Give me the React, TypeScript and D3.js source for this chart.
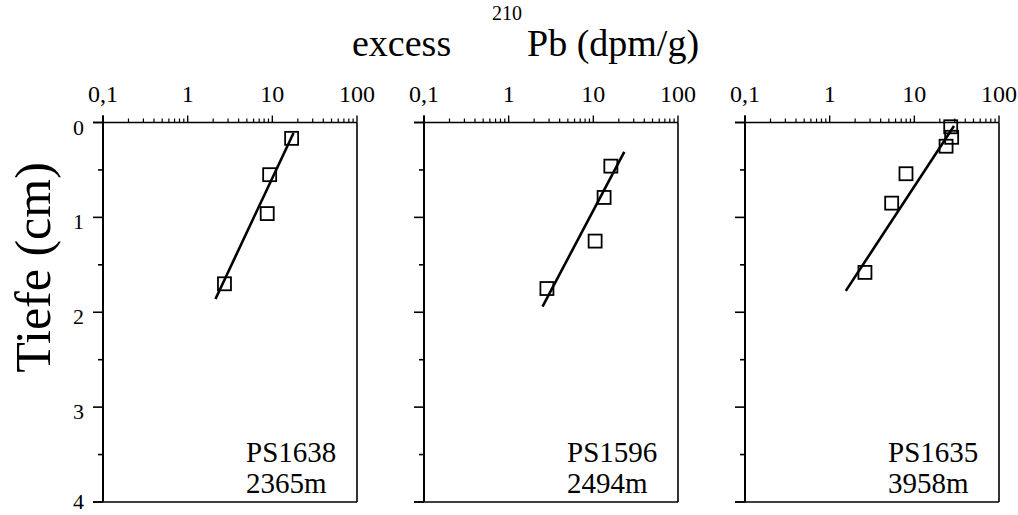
import React from "react";
import * as d3 from "d3";

// ---- data ----
const coreNames = ["PS1638", "PS1596", "PS1635"];
const waterDepths = ["2365m", "2494m", "3958m"];

const ps1638Pb = [16.9, 9.3, 8.7, 2.72];
const ps1638Depth = [0.167, 0.55, 0.96, 1.70];
const ps1638Fit = [[2.13, 1.86], [17.8, 0.11]];

const ps1596Pb = [16.1, 13.4, 10.5, 2.83];
const ps1596Depth = [0.46, 0.79, 1.25, 1.75];
const ps1596Fit = [[2.51, 1.94], [23.2, 0.31]];

const ps1635Pb = [26.9, 27.6, 23.7, 7.97, 5.4, 2.61];
const ps1635Depth = [0.045, 0.156, 0.25, 0.54, 0.85, 1.58];
const ps1635Fit = [[1.55, 1.775], [29.4, 0.037]];

const xTickLabels = ["0,1", "1", "10", "100"];
const xTickValues = [0.1, 1, 10, 100];
const yTickLabels = ["0", "1", "2", "3", "4"];
const yTickValues = [0, 1, 2, 3, 4];

const seriesPb = [ps1638Pb, ps1596Pb, ps1635Pb];
const seriesDepth = [ps1638Depth, ps1596Depth, ps1635Depth];
const seriesFit = [ps1638Fit, ps1596Fit, ps1635Fit];

// ---- layout ----
const W = 1018;
const H = 515;
const panelLefts = [103, 424, 745];
const panelW = 254;
const top = 122.5;
const bottom = 502;
const FONT = "'Liberation Serif', 'Times New Roman', serif";

const minorX: number[] = [];
[0.1, 1, 10].forEach((d) => {
  for (let k = 2; k <= 9; k++) minorX.push(k * d);
});
const minorY = [0.5, 1.5, 2.5, 3.5];

function Panel({ idx }: { idx: number }) {
  const x0 = panelLefts[idx];
  const x = d3.scaleLog().domain([0.1, 100]).range([x0, x0 + panelW]);
  const y = d3.scaleLinear().domain([0, 4]).range([top, bottom]);
  const pb = seriesPb[idx];
  const dep = seriesDepth[idx];
  const fit = seriesFit[idx];
  const line = d3
    .line<number[]>()
    .x((d) => x(d[0]))
    .y((d) => y(d[1]));
  const sq = 13;
  return (
    <g>
      {/* frame */}
      <line x1={x0 + panelW} x2={x0 + panelW} y1={top} y2={bottom} stroke="#000" strokeWidth={1.6} />
      <line x1={x0 - 10} x2={x0 + panelW} y1={bottom} y2={bottom} stroke="#000" strokeWidth={1.6} />
      <line x1={x0} x2={x0} y1={top - 7} y2={bottom} stroke="#000" strokeWidth={2} />
      <line x1={x0 - 10} x2={x0 + panelW} y1={top} y2={top} stroke="#000" strokeWidth={1.6} />
      {/* top axis ticks */}
      {xTickValues.map((v, i) => (
        <g key={"xt" + i}>
          <line x1={x(v)} x2={x(v)} y1={top} y2={top - 7} stroke="#000" strokeWidth={1.4} />
          <text x={x(v)} y={102} textAnchor="middle" fontSize={24} fontFamily={FONT} fill="#000">
            {xTickLabels[i]}
          </text>
        </g>
      ))}
      {minorX.map((v, i) => (
        <line key={"xm" + i} x1={x(v)} x2={x(v)} y1={top} y2={top - 4} stroke="#000" strokeWidth={1.2} />
      ))}
      {/* left axis ticks */}
      {yTickValues.map((v, i) => (
        <g key={"yt" + i}>
          <line x1={x0} x2={x0 - 10} y1={y(v)} y2={y(v)} stroke="#000" strokeWidth={1.6} />
          {idx === 0 && (
            <text x={84} y={Math.min(y(v) + 12, 509)} textAnchor="end" fontSize={22} fontFamily={FONT} fill="#000">
              {yTickLabels[i]}
            </text>
          )}
        </g>
      ))}
      {minorY.map((v, i) => (
        <line key={"ym" + i} x1={x0} x2={x0 - 5} y1={y(v)} y2={y(v)} stroke="#000" strokeWidth={1.6} />
      ))}
      {/* fit line */}
      <path d={line(fit) || ""} fill="none" stroke="#000" strokeWidth={2.6} />
      {/* points */}
      {pb.map((v, i) => (
        <rect
          key={"p" + i}
          x={x(v) - sq / 2}
          y={y(dep[i]) - sq / 2}
          width={sq}
          height={sq}
          fill="none"
          stroke="#000"
          strokeWidth={1.8}
        />
      ))}
      {/* labels */}
      <text x={x0 + panelW - 111} y={462} fontSize={29} fontFamily={FONT} fill="#000">
        {coreNames[idx]}
      </text>
      <text x={x0 + panelW - 111} y={493} fontSize={29} fontFamily={FONT} fill="#000">
        {waterDepths[idx]}
      </text>
    </g>
  );
}

export default function App() {
  return (
    <svg
      width={W}
      height={H}
      viewBox={`0 0 ${W} ${H}`}
      style={{ position: "absolute", left: 0, top: 0, background: "#fff" }}
    >
      <rect x={0} y={0} width={W} height={H} fill="#fff" />
      <text x={352} y={56} fontSize={38} fontFamily={FONT} fill="#000">
        excess
      </text>
      <text x={492} y={20} fontSize={20} fontFamily={FONT} fill="#000">
        210
      </text>
      <text x={527} y={56} fontSize={38} fontFamily={FONT} fill="#000">
        Pb (dpm/g)
      </text>
      <text
        transform="translate(50,267.5) rotate(-90)"
        textAnchor="middle"
        fontSize={50}
        fontFamily={FONT}
        fill="#000"
      >
        Tiefe (cm)
      </text>
      {[0, 1, 2].map((i) => (
        <Panel key={i} idx={i} />
      ))}
    </svg>
  );
}
